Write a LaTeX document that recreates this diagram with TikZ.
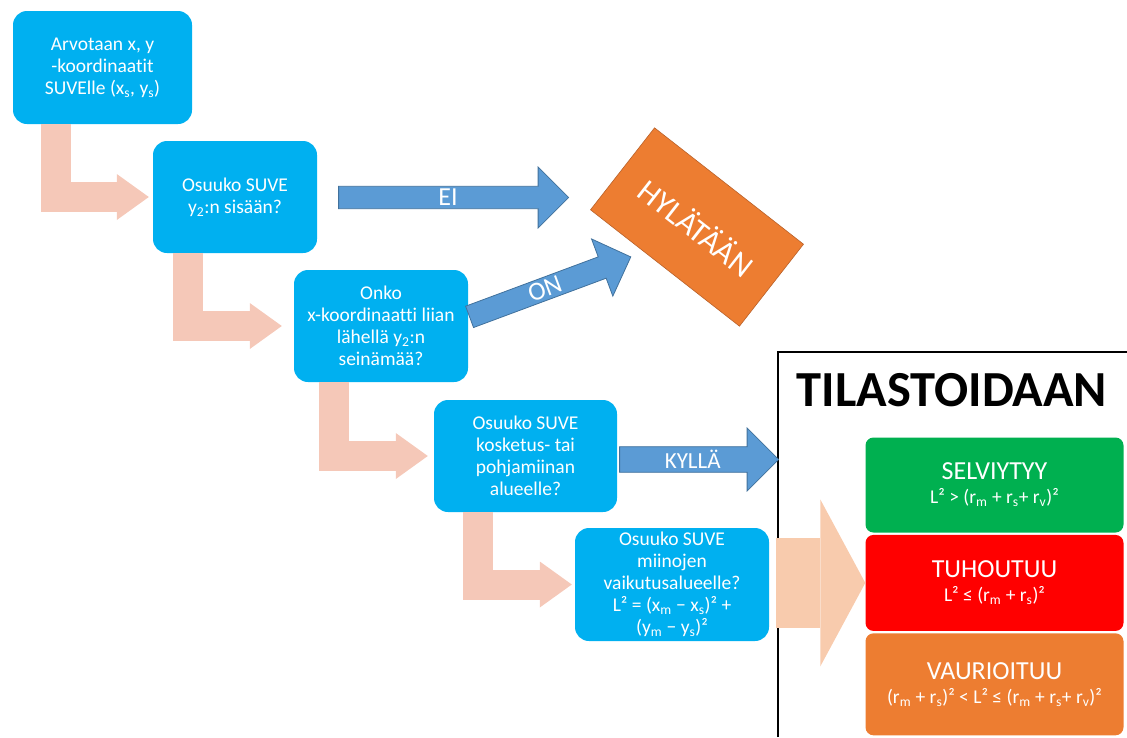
\documentclass[tikz,border=0pt]{standalone}
\usepackage{fontspec}
\setmainfont{Carlito}[Ligatures=NoCommon]
\usetikzlibrary{shapes,arrows.meta,positioning,calc}

\definecolor{qblue}{HTML}{00B0F0}
\definecolor{ablue}{HTML}{5B9BD5}
\definecolor{ablueedge}{HTML}{41719C}
\definecolor{rorange}{HTML}{ED7D31}
\definecolor{rorangeedge}{HTML}{B9612A}
\definecolor{sgreen}{HTML}{00B050}
\definecolor{dred}{HTML}{FF0000}
\definecolor{steppink}{HTML}{F5C8B8}
\definecolor{peach}{HTML}{F8CBAD}
\newcommand{\subs}[1]{\textsubscript{#1}}
\newcommand{\formula}[1]{{\fontsize{19.5}{24}\selectfont #1}}

\begin{document}
\begin{tikzpicture}[x=1pt, y=-1pt,
    question/.style = {rectangle, rounded corners=14pt, fill=qblue, text=white, align=center, inner sep=0pt, font=\fontsize{19.5}{22}\selectfont},
    stepflow/.style = {draw=steppink, line width=30pt, -{Triangle[length=32pt, width=46pt, line width=0pt]}},
    bigflow/.style = {draw=peach, line width=90pt, -{Triangle[length=45pt, width=167pt, line width=0pt]}},
    decision/.style = {single arrow, draw=ablueedge, fill=ablue, text=white, line width=0.8pt, inner sep=0pt, single arrow head extend=15pt, minimum width=61pt, anchor=tail, font=\fontsize{26}{26}\selectfont},
    outcome/.style = {rectangle, rounded corners=8pt, minimum width=258pt, align=center, text=white, inner sep=0pt, font=\fontsize{26}{24}\selectfont},
    ]
    \useasboundingbox (0,0) rectangle (1127,737);

    % Questions
    \node[question, minimum width=179pt, minimum height=113pt] (coords) at (102.5,67.5) {Arvotaan x, y\\-koordinaatit\\SUVElle (x\subs{s}, y\subs{s})};
    \node[question, minimum width=164pt, minimum height=112pt] (hit) at (235,197) {Osuuko SUVE\\y\subs{2}:n sisään?};
    \node[question, minimum width=174pt, minimum height=112pt] (wall) at (381,326) {Onko\\x-koordinaatti liian\\lähellä y\subs{2}:n\\seinämää?};
    \node[question, minimum width=183pt, minimum height=112pt] (mine) at (525.5,456) {Osuuko SUVE\\kosketus- tai\\pohjamiinan\\alueelle?};
    \node[question, minimum width=194pt, minimum height=113pt] (blast) at (672,584.5) {Osuuko SUVE\\miinojen\\vaikutusalueelle?\\L² = (x\subs{m} − x\subs{s})² +\\(y\subs{m} − y\subs{s})²};

    % Rejected
    \node[rectangle, rotate=-38, fill=rorange, draw=rorangeedge, line width=0.6pt, minimum width=189pt, minimum height=104pt, text=white, font=\fontsize{32}{32}\selectfont] (reject) at (697,227) {HYLÄTÄÄN};

    % Statistics
    \coordinate (frame) at (778,352);
    \draw[line width=2.5pt] (778,737) -- (frame) -- (1127,352);
    \node[font=\bfseries\fontsize{50.5}{50}\selectfont] (stats) at (952,390) {TILASTOIDAAN};
    \node[outcome, fill=sgreen, minimum height=95pt] (survive) at (994.5,485) {SELVIYTYY\\\formula{L² > (r\subs{m} + r\subs{s}+ r\subs{v})²}};
    \node[outcome, fill=dred, minimum height=96pt, below=2pt of survive] (destroy) {TUHOUTUU\\\formula{L² ≤ (r\subs{m} + r\subs{s})²}};
    \node[outcome, fill=rorange, minimum height=102pt, below=2pt of destroy] (damage) {VAURIOITUU\\\formula{(r\subs{m} + r\subs{s})² < L² ≤ (r\subs{m} + r\subs{s}+ r\subs{v})²}};

    % Steps
    \draw[stepflow] ([xshift=43pt]coords.south west) |- ([xshift=-4pt]hit.west);
    \draw[stepflow] ([xshift=35pt]hit.south west) |- ([xshift=-12pt]wall.west);
    \draw[stepflow] ([xshift=40pt]wall.south west) |- ([xshift=-6pt]mine.west);
    \draw[stepflow] ([xshift=44pt]mine.south west) |- ([xshift=-3pt]blast.west);
    \draw[bigflow] ([xshift=-2pt]frame |- destroy.west) -- (destroy.west);

    % Answers
    \node[decision, minimum height=230pt] (no) at ($(hit.east)+(21,0.5)$) {EI};
    \node[decision, minimum height=172pt, rotate=20.4] (yes) at ($(wall.east)+(1,-9)$) {ON};
    \node[decision, minimum height=159pt, minimum width=63pt, single arrow head extend=14pt, font=\fontsize{23}{23}\selectfont] (touch) at ($(mine.east)+(2,3.5)$) {KYLLÄ};
\end{tikzpicture}
\end{document}
